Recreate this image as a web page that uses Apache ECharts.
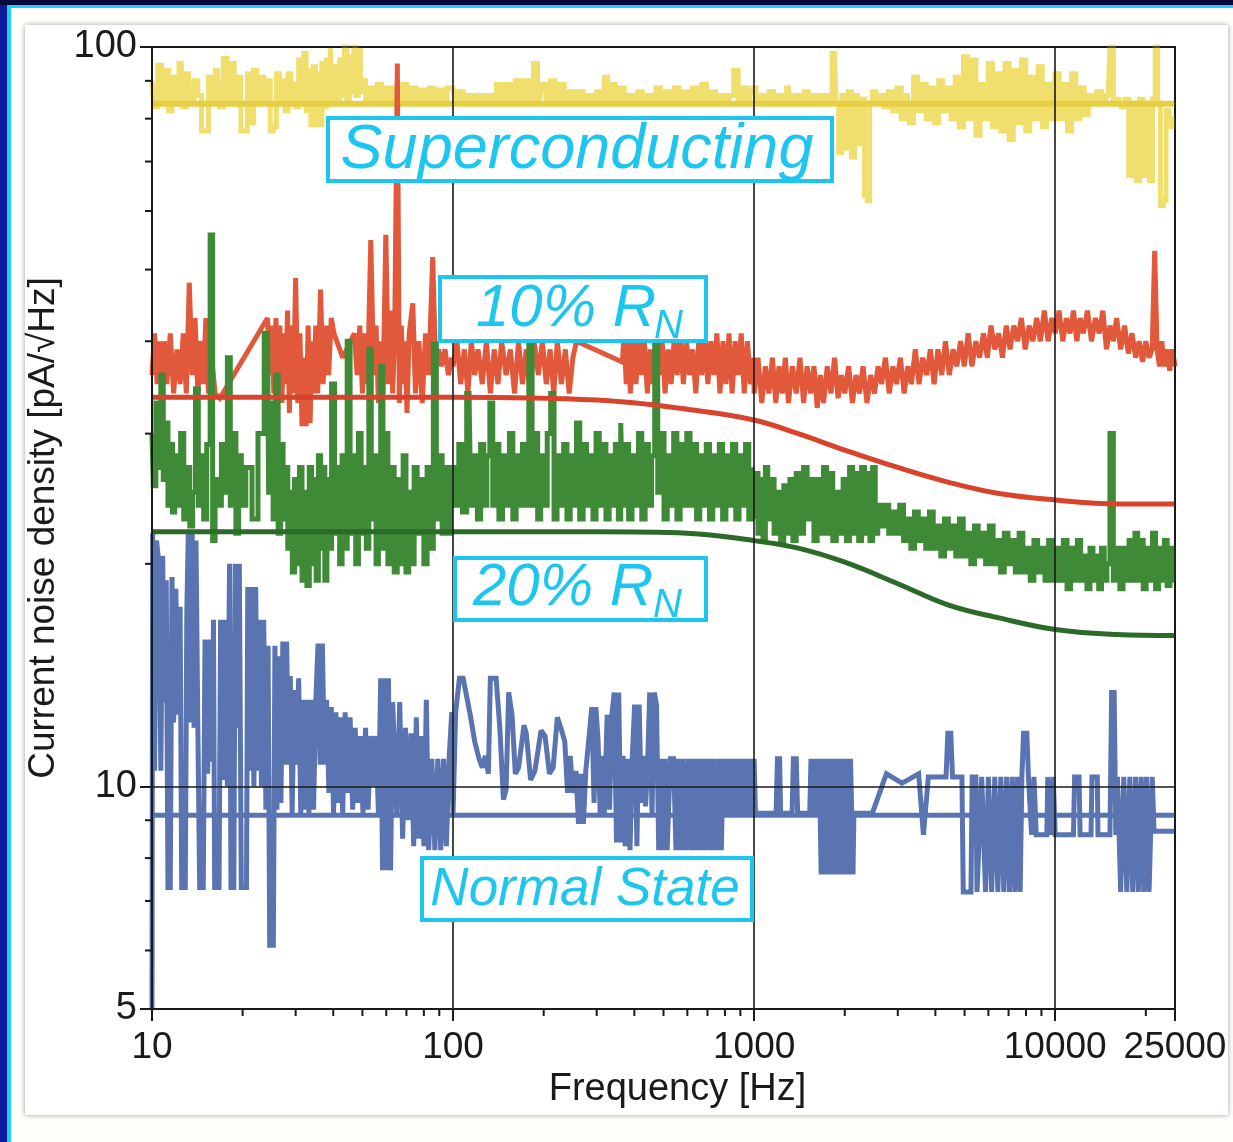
<!DOCTYPE html>
<html>
<head>
<meta charset="utf-8">
<title>Current noise density</title>
<script src="https://cdn.jsdelivr.net/npm/echarts@6/dist/echarts.min.js"></script>
<style>
  html, body { margin: 0; padding: 0; width: 1233px; height: 1142px; overflow: hidden; background: #0a1c9a; }
  #topband { position: absolute; left: 0; top: 0; width: 1233px; height: 5px; background: #03093c; }
  #frame { position: absolute; left: 7px; top: 5px; right: 0; bottom: 0; background: #fffefb;
           border-left: 4px solid #22cdf2; border-top: 3px solid #22cdf2; }
  #panel { position: absolute; left: 25px; top: 25px; width: 1203px; height: 1090px; background: #ffffff;
           box-shadow: 0 0 5px rgba(0,0,0,0.38); }
  #chart { position: absolute; left: 0; top: 0; width: 1233px; height: 1142px; }
</style>
</head>
<body>
<div id="topband"></div>
<div id="frame"></div>
<div id="panel"></div>
<div id="chart"></div>
<script>
// ---- axes ----
const X_MIN = 10, X_MAX = 25000;
const Y_MIN = 5, Y_MAX = 100;
const X_MINOR_TICKS = [20, 30, 40, 50, 60, 70, 80, 90,
  200, 300, 400, 500, 600, 700, 800, 900,
  2000, 3000, 4000, 5000, 6000, 7000, 8000, 9000, 20000];
const Y_MINOR_TICKS = [6, 7, 8, 9, 20, 30, 40, 50, 60, 70, 80, 90];

// ---- measured spectra [frequency Hz, pA/sqrt(Hz)] ----
const superNoise = [
  [10,90],[10.3,83],[10.6,94.5],[10.9,84],[11.2,93],[11.5,82],[11.8,91],[12.1,85],[12.5,95],[12.8,83],
  [13.2,92],[13.6,84],[14,90],[14.4,86],[14.8,77],[15.2,77],[15.6,91],[16,84],[16.5,93],[17,83],
  [17.5,96.5],[18,85],[18.5,95],[19,84],[19.5,91],[20,77],[20.5,77],[21,92],[21.5,79],[22,93],
  [22.6,85],[23.2,91],[23.8,84],[24.4,90],[25,77],[25.6,78],[26.2,92],[26.8,84],[27.4,90],[28,82],
  [28.6,92],[29.2,85],[29.8,89],[30.4,83],[31,96],[31.6,84],[32.2,98],[32.8,82],[33.4,93],[34,78.5],
  [34.6,94],[35.2,78.5],[35.8,92],[36.4,78.5],[37,95],[37.6,83],[38.2,96],[38.8,84],[39.4,99.7],[40,85],
  [40.8,94],[41.6,84],[42.4,96],[43.2,86],[44,100],[44.8,85],[45.6,97],[46.4,87],[47.2,100],[48,86],
  [48.8,99],[49.6,87],[50.5,90],[52,85],[53.5,88],[55,84],[57,89],[59,85],[61,88],[63,84],
  [65,88],[67,85],[69,89],[71.5,85],[74,88],[76.5,84],[79,87.5],[82,85],[85,88],[88,84],
  [91,87.5],[94,85],[97,88],
  [100,88],[103,84],[106,87],[110,84],[114,86],[118,84],[122,86],[127,84],[132,86],[137,84],
  [142,89],[147,84],[152,89],[158,85],[164,90],[170,84],[176,90],[182,85],[188,95],[194,85],
  [200,89],[207,84],[214,90],[222,85],[230,89],[238,84],[247,87],[256,84],[265,87],[275,84],
  [285,86],[295,84],[305,87],[315,84],[322,91],[330,85],[340,89],[352,84],[364,88],[377,84],
  [390,86],[404,84],[418,87],[433,84],[448,86],[464,84],[480,88],[497,84],[515,87],[533,84],
  [552,88],[572,84],[592,87],[613,84],[635,88],[658,84],[682,89],[706,84],[731,87],[757,84],
  [784,86],[812,84],[841,86],[870,93],[900,84],[932,88],[965,84],[982,87],
  [1000,88],[1030,84],[1060,86],[1100,84],[1140,87],[1180,84],[1220,86],[1260,84],[1300,88],[1340,85],
  [1390,86],[1440,84],[1490,87],[1540,85],[1600,86],[1660,84],[1720,86],[1780,84],[1850,98],[1890,84],
  [1930,72],[1980,86],[2030,73],[2080,87],[2130,71],[2180,86],[2240,74],[2300,85],[2350,63],[2400,62],
  [2440,84],[2500,87],[2580,84],[2660,86],[2750,83],[2840,87],[2930,82],[3030,88],[3130,80],[3230,86],
  [3330,79],[3440,91],[3550,82],[3670,89],[3790,80],[3910,88],[4040,79],[4170,90],[4300,82],[4440,88],
  [4580,80],[4730,91],[4880,78],[5040,97],[5200,80],[5370,96],[5540,76],[5720,89],[5900,80],[6090,95],
  [6290,78],[6490,92],[6700,77],[6920,95],[7140,75],[7370,93],[7610,79],[7860,96],[8110,77],[8370,91],
  [8640,80],[8920,94],[9210,78],[9510,89],[9820,80],[10140,92],[10470,80],[10810,89],[11160,77],[11520,92],
  [11890,80],[12280,88],[12680,81],[13090,86],[13510,84],[14000,87],[14500,84],[15000,86],[15400,100],[15800,84],
  [16300,85],[16800,83],[17300,85],[17800,67],[18300,84],[18800,66],[19300,85],[19800,67],[20300,84],[20800,66],
  [21300,85],[21700,100],[22100,84],[22600,61],[23100,62],[23600,82],[24200,78],[25000,80]
];

const rn10Noise = [
  [10,36],[10.2,41],[10.4,35],[10.6,40],[10.8,34],[11,40],[11.2,35],[11.5,41],[11.8,34],[12.1,39],
  [12.4,35],[12.7,41],[13,34],[13.3,48],[13.6,36],[13.9,43],[14.2,34],[14.5,40],[14.8,35],[15.1,43],
  [15.4,34],[15.8,38],[16.2,34],[16.8,33.5],[24.2,43],[24.6,36],[25,42],[25.4,34],[25.8,43],[26.2,35],
  [26.6,42],[27,33],[27.4,41],[27.8,35],[28.2,44],[28.6,32],[29,42],[29.5,34],[30,48.7],[30.5,33],
  [31,41],[31.5,30.7],[32,38],[32.5,30.7],[33,42],[33.5,31],[34,40],[34.5,34],[35,42],[35.5,34],
  [36.3,47],[37,35],[37.8,42],[38.6,36],[39.4,43],[40.2,41],[43,38],[47,41],[48,36],[49,42],
  [50,34],[51,41],[52,35],[53.3,54.8],[54.5,36],[55.5,42],[56.5,33],[57.5,40],[58.5,34],[59.8,55.7],
  [61,35],[62,44],[63,34],[64,41],[65.3,95],[66.3,33],[67.3,42],[68.3,35],[69.3,40],[70.3,32],
  [71.5,41],[73.5,45],[75,34],[77,40],[79,33],[81,41],[83,36],[85.6,52],[87.5,37],[89.5,39],
  [91.5,37],[94,39],[96.5,36],[99,38],
  [100,37],[103,40],[106,35],[109,39],[112,34],[115,40],[118,36],[121,39],[125,35],[129,40],
  [133,34],[137,39],[141,35],[145,40],[150,36],[155,39],[160,34],[165,40],[170,35],[175,39],
  [180,34],[186,40],[192,36],[198,40],[204,35],[210,39],[216,34],[222,40],[229,35],[236,39],
  [243,34],[250,38],[257,40],[365,37.5],[370,41],[376,35],[382,40],[388,34],[396,40],[405,35],
  [414,41],[423,36],[432,40],[442,34],[452,39],[462,35],[473,41],[484,36],[495,40],[506,34],
  [518,39],[530,35],[542,40],[555,36],[568,41],[582,35],[596,40],[610,36],[625,39],[640,34],
  [655,40],[670,36],[686,41],[702,35],[718,40],[735,36],[752,41],[770,34],[788,40],[806,35],
  [825,41],[845,34],[865,40],[885,36],[906,41],[927,34],[950,40],[972,35],[995,38],
  [1000,34],[1030,38],[1060,33],[1090,37],[1120,34],[1150,38],[1180,33],[1210,37],[1240,34],[1270,38],
  [1300,33],[1340,37],[1380,34],[1420,38],[1460,33],[1500,37],[1540,34],[1580,37],[1620,32.5],[1660,36],
  [1700,33],[1750,37],[1800,34],[1850,38],[1900,33.5],[1950,36],[2000,34],[2060,37],[2120,33],[2180,36],
  [2240,34],[2300,37],[2370,33],[2440,36],[2510,34],[2580,37],[2650,35],[2730,38],[2810,34],[2890,37],
  [2970,35],[3060,38],[3150,34],[3240,37],[3330,35],[3430,39],[3530,35],[3630,38],[3740,36],[3850,39],
  [3960,35],[4080,39],[4200,36],[4320,40],[4450,36],[4580,39],[4710,37],[4850,40],[4990,37],[5140,41],
  [5290,37],[5450,40],[5610,38],[5780,41],[5950,38],[6120,42],[6300,39],[6490,41],[6680,38],[6880,42],
  [7080,39],[7290,42],[7500,40],[7720,43],[7950,39],[8190,42],[8430,40],[8680,43],[8930,40],[9200,44],
  [9470,40],[9750,43],[10000,41],
  [10300,44],[10600,40],[10900,43],[11200,41],[11500,44],[11800,40],[12100,43],[12400,41],[12800,44],[13200,40],
  [13600,43],[14000,41],[14400,44],[14800,39],[15200,42],[15600,40],[16000,43],[16500,39],[17000,42],[17500,38.5],
  [18000,41],[18500,38],[19000,40],[19500,37.5],[20000,40],[20500,38],[21000,39],[21400,53],[21800,39],[22200,37],
  [22600,40],[23000,37],[23500,39],[24000,36.5],[24500,39],[25000,37]
];

const rn20Noise = [
  [10,30],[10.2,25.5],[10.4,33],[10.6,27],[10.8,36],[11,26],[11.2,31],[11.4,24],[11.6,29],[11.8,23.5],
  [12,28],[12.3,24],[12.6,30],[12.9,23],[13.2,27],[13.5,22.5],[13.8,25],[14.1,34.5],[14.4,24],[14.7,28],
  [15,23],[15.4,29],[15.8,55.7],[16,21.5],[16.4,26],[16.8,24],[17.2,29],[17.6,25],[18,38],[18.4,24],
  [18.8,30],[19.2,22],[19.6,28],[20,24],[21,27],[22,23],[23,30],[24.2,41],[24.6,25],[25,33],
  [25.5,23],[26,36],[26.5,22],[27,29],[27.5,23],[28,27],[28.5,21],[29,25],[29.5,19.5],[30,26],
  [30.6,20],[31.2,27],[31.8,19],[32.4,25],[33,18.7],[33.6,27],[34.2,20],[34.8,26],[35.4,19],[36,28],
  [36.6,21],[37.2,27],[37.8,19],[38.4,26],[39,21],[40,35],[40.8,22],[41.6,27],[42.4,20],[43.2,28],
  [44,21],[45,40],[46,22],[47,28],[48,20],[49,30],[50,22],[51,27],[52,21],[53,39],
  [54,23],[55,28],[56,20],[57,26],[58,37],[59,21],[60,30],[61.5,20],[63,27],[64.5,19.5],
  [66,26],[67.5,20],[69,28],[70.5,19.5],[72,25],[73.5,20],[75,27],[77,22],[79,26],[81,20],
  [83,27],[85,21],[87,39.7],[89,23],[91,28],[93,22],[95,27],[97,22],[99,26],
  [100,27],[103,24],[106,29],[109,23.5],[113,34],[116,24],[119,28],[122,23],[125,29],[128,24],
  [131,28],[134,33],[137,24],[140,29],[144,23],[148,28],[152,24],[156,30],[160,23],[164,28],
  [168,24],[172,29],[176,24],[181,40],[185,24],[189,30],[193,23],[198,28],[203,24],[208,30],
  [214,34],[219,23],[224,28],[230,24],[236,29],[242,23],[248,28],[254,24],[260,31],[267,23],
  [274,29],[281,24],[288,28],[295,23],[302,30],[310,24],[318,29],[326,23],[334,28],[342,24],
  [350,29],[358,23],[363,31],[369,24],[378,29],[388,23],[398,28],[408,24],[418,30],[429,23],
  [440,29],[451,24],[462,28],[473,40],[484,25],[496,30],[508,23],[521,28],[534,24],[547,30],
  [561,23],[575,29],[590,24],[605,30],[620,24],[636,29],[652,23],[668,28],[685,24],[702,29],
  [720,23],[738,28],[757,24],[776,29],[796,23],[816,28],[837,24],[858,29],[880,23],[902,28],
  [925,24],[948,29],[972,23],[996,27],
  [1000,23],[1020,26.5],[1040,22],[1060,26],[1080,21.5],[1100,27],[1120,23],[1150,26],[1180,22],[1210,25],
  [1240,21.5],[1270,25.5],[1300,22],[1330,26],[1360,21.5],[1400,26.5],[1440,22],[1480,27],[1520,23],[1560,26],
  [1600,21.5],[1640,26],[1680,22],[1720,27],[1760,22],[1800,26.5],[1850,21.5],[1900,25],[1950,22],[2000,26],
  [2050,21.5],[2100,27],[2150,22],[2200,26.5],[2250,21.5],[2300,27],[2350,22],[2400,26.5],[2450,21.5],[2500,27],
  [2550,22],[2600,24],[2680,22.5],[2760,24],[2840,22],[2920,23.5],[3000,22],[3090,24],[3180,21.5],[3270,23],
  [3360,21],[3460,23.5],[3560,21.5],[3660,23],[3770,21],[3880,23.5],[3990,21],[4110,22.5],[4230,20.5],[4350,23],
  [4480,21],[4610,22.5],[4740,20.5],[4880,23],[5020,20.5],[5170,22],[5320,20],[5470,22.5],[5630,20.5],[5790,22],
  [5960,20],[6130,22.5],[6310,20],[6490,21.5],[6680,19.5],[6870,22],[7070,20],[7270,21.5],[7480,19.5],[7700,22],
  [7920,19.5],[8150,21],[8380,19],[8620,21.5],[8870,19.5],[9120,21],[9380,19],[9650,21.5],[9930,19],
  [10200,21],[10500,19],[10800,21.5],[11100,18.5],[11400,21],[11700,19],[12000,21.5],[12300,19],[12600,20.5],[12900,18.5],
  [13200,21],[13500,19],[13800,20.5],[14100,18.5],[14400,21],[14700,19],[15000,20],[15400,30],[15800,19],[16200,21],
  [16600,18.5],[17000,21],[17400,19],[17800,21.5],[18200,19],[18600,22],[19000,19],[19400,21.5],[19800,18.5],[20300,21],
  [20800,19],[21300,22],[21800,18.5],[22300,21],[22800,19],[23300,21.5],[23800,18.7],[24300,21],[25000,19]
];

const normalNoise = [
  [10,5],[10.05,22],[10.2,10.5],[10.35,21.5],[10.55,20],[10.7,10.5],[10.85,20.5],[11,13],[11.15,19],
  [11.3,7.3],[11.5,7.3],[11.65,19.2],[11.8,12.2],[12,18.5],[12.2,12.5],[12.4,17.5],
  [12.55,7.3],[12.9,7.3],[13.05,17.2],[13.2,22],[13.4,12.2],[13.6,22],[13.8,12],[14,21.5],[14.2,12],
  [14.4,7.3],[14.8,7.3],[15,15.8],[15.3,10.4],[15.6,15.8],[15.9,10.8],[16,16.8],
  [16.15,7.3],[16.7,7.3],[16.9,16.8],[17.2,10.2],[17.5,16.8],[17.8,10],[18.1,20],
  [18.3,7.3],[18.7,7.3],[18.9,20],[19.2,12],[19.5,20],
  [19.8,7.3],[20.6,7.3],[20.8,18.6],[21.1,10.5],[21.4,18.6],[21.8,10],[22.1,18.6],[22.4,10.5],
  [22.8,16.8],[23.1,10],[23.5,16.8],[23.9,9.3],[24.3,15.5],[24.6,6.1],[25.3,6.1],[25.6,15.5],[26,9.3],
  [26.4,15],[26.8,9.5],[27.2,15.7],[27.6,10.7],[28,15.7],[28.4,10.7],
  [28.8,14.1],[29.2,9.2],[29.7,13.5],[30.2,10.7],[30.7,14],[31.2,9.2],[31.7,13.1],[32.2,9.3],[32.7,13.1],
  [33.2,9.2],[33.8,13.1],[34.4,9.3],[35,13],[35.6,15.6],[36.2,10.7],[36.8,15.6],[37.4,10.7],
  [38,13.1],[38.7,9.8],[39.4,12.8],[40.1,9.2],[40.8,12.6],[41.5,9.5],[42.2,12.4],[43,9.2],[43.8,12.6],[44.6,9.8],
  [45.5,12.4],[46.4,9.3],[47.3,12],[48.2,9.5],[49.2,11.7],[50.2,9.2],[51.2,12],[52.2,9.3],[53.3,11.7],[54.4,10],
  [55.5,11.7],[56.5,9.2],[57.5,14],[58.3,7.7],[59.3,14],[60.2,7.7],[61,14],[62,7.7],[63,13],
  [65,9.2],[66.5,13],[68,8.5],[69.5,12],[71,9],[72.5,11.8],[74,8.3],[75.5,12.4],[77,8.5],[78.5,11.7],[80,8.3],
  [81.5,13.1],[83,8.2],[85,10.9],[87,8.2],[89,10.9],[91,8.2],[93,10.9],[95,8.3],[97,10.9],[99,12.6],
  [100,9.2],[102,12.6],[105,14],[108,14],[114,12.5],[118,11.5],[122,10.9],[125,10.6],[128,11],[131,10.4],
  [133,14],[139,14],[143,12],[147,9.6],[150,9.9],[153,13.4],[157,12.5],[161,10.4],[165,10.6],[172,12.1],
  [175,11.8],[181,10.2],[187,10.5],[196,11.9],[202,11.7],[209,10.4],[215,10.6],[222,12.4],[228,12],[235,11.5],
  [240,9.8],[245,11],[250,9.8],[256,10.5],[261,8.9],[266,10.4],[271,8.9],[276,10.5],[289,12.8],[294,9.5],
  [298,12.8],[303,11.6],[308,9.2],[313,11],[318,9.2],[325,12.5],[331,9.3],[337,12.5],[343,13.4],[349,8.4],
  [355,13.4],[361,8.4],[367,11],[373,8.3],[380,10.9],[387,8.2],[394,11],[401,12.9],[408,8.3],[415,12.9],
  [422,9.5],[429,11],[436,9.4],[443,10.8],[450,13.4],[458,9.2],[466,13.4],[474,12.9],[482,8.2],[490,10.9],
  [498,8.2],[506,10.9],[514,8.2],[527,10.9],[540,10.9],[550,8.2],[560,10.9],[570,8.2],[580,10.9],[592,8.2],
  [604,10.9],[616,8.2],[628,10.9],[640,8.2],[652,10.9],[665,8.2],[678,10.9],[691,8.2],[705,10.9],[719,8.2],
  [733,10.9],[748,8.2],[763,10.9],[778,8.2],[790,10.9],[805,9.2],[820,10.9],[835,9.2],[850,10.9],[865,9.2],
  [880,10.9],[895,9.2],[910,10.9],[925,9.2],[940,10.9],[955,9.2],[970,10.9],[985,9.2],
  [1000,10.9],[1010,9.2],[1183,9.2],[1195,10.9],[1215,10.9],[1225,9.2],[1337,9.2],[1350,10.9],[1380,10.9],[1395,9.2],
  [1530,9.2],[1545,10.9],[1570,9.2],[1595,10.9],[1620,9.2],[1645,10.9],[1670,7.6],[1700,10.9],[1730,7.6],[1760,10.9],
  [1790,7.6],[1820,10.9],[1850,7.6],[1880,10.9],[1910,7.6],[1945,10.9],[1980,7.6],[2015,10.9],[2050,7.6],[2090,10.9],
  [2130,7.6],[2145,9.2],[2470,9.2],[2750,10.4],[3100,10.1],[3520,10.4],[3650,8.6],[3790,10.3],[4340,10.3],[4400,11.8],
  [4500,11.8],[4560,10.3],[4900,10.3],[4950,7.2],[5250,7.2],[5300,10.3],[5450,10.3],[5500,7.2],[5700,10.3],[5870,7.2],
  [6000,10.3],[6150,7.2],[6300,10.3],[6450,7.2],[6600,10.3],[6750,7.2],[6900,10.3],[7050,7.2],[7200,10.3],[7350,7.2],
  [7500,10.3],[7650,7.2],[7750,10.3],[7850,11.8],[8050,11.8],[8150,10.3],[8350,8.6],[8500,10.3],[8650,8.6],[9380,8.6],
  [9450,10.3],[9650,8.6],[9850,10.3],[10000,8.6],[11500,8.6],[11600,10.3],[12000,10.3],[12100,8.6],[13150,8.6],[13250,10.3],
  [13800,10.3],[13870,8.6],[15200,8.6],[15400,13.4],[15700,13.4],[15900,8.6],[16100,10.3],[16500,7.2],[16900,10.3],[17300,7.2],
  [17700,10.3],[18100,7.2],[18500,10.3],[18900,7.2],[19300,10.3],[19700,7.2],[20100,10.3],[20500,7.2],[21000,10.3],[21300,8.7],
  [25000,8.7]
];

// ---- model curves ----
const superModel = [[10,83.8],[25000,83.8]];
const rn10Model = [[10,33.6],[100,33.6],[300,33.3],[660,32.2],[1000,31.3],[1400,30.0],[2000,28.5],
  [3000,27.0],[4400,25.8],[6500,24.9],[10000,24.4],[16000,24.1],[25000,24.1]];
const rn20Model = [[10,22.1],[300,22.1],[600,22.0],[1000,21.5],[1400,21.0],[2000,20.1],[3000,18.8],
  [4400,17.6],[6500,16.9],[10000,16.3],[16000,16.05],[25000,16.0]];
const normalModel = [[10,9.14],[25000,9.14]];

const CYAN = '#1cc6ef';
const INK = '#1a1a1a';
const FONT = '"Liberation Sans", Arial, Helvetica, sans-serif';

function lineSeries(name, data, color, width, z, opts) {
  opts = opts || {};
  return {
    name: name, type: 'line', data: data, z: z,
    showSymbol: false, symbol: 'none',
    smooth: opts.smooth || false, step: opts.step || false,
    lineStyle: { color: color, width: width, join: 'miter', miterLimit: 2 },
    emphasis: { disabled: true }, silent: true
  };
}

function minorTickRenderer(axis) {
  return function (params, api) {
    const p = api.coord([api.value(0), api.value(1)]);
    const len = 7;
    const shape = axis === 'x'
      ? { x1: p[0], y1: p[1], x2: p[0], y2: p[1] + len }
      : { x1: p[0] - len, y1: p[1], x2: p[0], y2: p[1] };
    return { type: 'line', shape: shape, style: { stroke: INK, lineWidth: 2 } };
  };
}

function labelBox(x, y, w, h) {
  return { type: 'rect', z: 100, shape: { x: x, y: y, width: w, height: h },
           style: { fill: '#ffffff', stroke: CYAN, lineWidth: 4 } };
}
function labelText(text, x, y, size, align) {
  return { type: 'text', z: 101, x: x, y: y,
           style: { text: text, fill: CYAN, font: 'italic ' + size + 'px ' + FONT,
                    align: align, verticalAlign: 'middle', textAlign: align, textVerticalAlign: 'middle' } };
}

const chart = echarts.init(document.getElementById('chart'), null, { renderer: 'canvas' });
chart.setOption({
  animation: false,
  backgroundColor: 'transparent',
  textStyle: { fontFamily: FONT },
  grid: { left: 152, right: 58, top: 47, bottom: 133, show: true, borderColor: INK, borderWidth: 2,
          backgroundColor: 'transparent', containLabel: false, outerBoundsMode: 'none' },
  xAxis: {
    type: 'log', logBase: 10, min: X_MIN, max: X_MAX, z: 15,
    name: 'Frequency [Hz]', nameLocation: 'middle', nameGap: 62,
    nameTextStyle: { fontSize: 38, color: INK, fontFamily: FONT, padding: [0, 0, 0, 28] },
    axisLine: { show: true, lineStyle: { color: INK, width: 2 } },
    axisTick: { show: true, inside: false, length: 12, lineStyle: { color: INK, width: 2 } },
    minorTick: { show: false },
    axisLabel: { show: true, margin: 20, fontSize: 37, color: INK, fontFamily: FONT,
                 showMinLabel: true, showMaxLabel: true, hideOverlap: false,
                 formatter: function (v) { return String(Math.round(v)); } },
    splitLine: { show: true, lineStyle: { color: INK, width: 1.6 } }
  },
  yAxis: {
    type: 'log', logBase: 10, min: Y_MIN, max: Y_MAX, z: 15,
    name: 'Current noise density [pA/\u221AHz]', nameLocation: 'middle', nameGap: 90, nameRotate: 90,
    nameTextStyle: { fontSize: 37, color: INK, fontFamily: FONT },
    axisLine: { show: true, lineStyle: { color: INK, width: 2 } },
    axisTick: { show: true, inside: false, length: 12, lineStyle: { color: INK, width: 2 } },
    minorTick: { show: false },
    axisLabel: { show: true, margin: 15, fontSize: 38, color: INK, fontFamily: FONT,
                 showMinLabel: true, showMaxLabel: true, hideOverlap: false,
                 formatter: function (v) { return String(Math.round(v)); } },
    splitLine: { show: true, lineStyle: { color: INK, width: 1.6 } }
  },
  series: [
    lineSeries('Superconducting', superNoise, '#f1df6d', 5, 2, { step: 'middle' }),
    lineSeries('Superconducting model', superModel, '#e6cf45', 6, 3),
    lineSeries('10% RN', rn10Noise, '#e2583a', 5, 4),
    lineSeries('20% RN', rn20Noise, '#3f8a37', 5, 5, { step: 'middle' }),
    lineSeries('10% RN model', rn10Model, '#d9422b', 5, 6, { smooth: 0.4 }),
    lineSeries('Normal State', normalNoise, '#5a74b2', 5, 7),
    lineSeries('20% RN model', rn20Model, '#2b6a28', 5, 8, { smooth: 0.4 }),
    lineSeries('Normal State model', normalModel, '#5a74b2', 5, 9),
    { type: 'custom', name: 'x minor ticks', z: 16, clip: false, silent: true,
      data: X_MINOR_TICKS.map(function (f) { return [f, Y_MIN]; }),
      renderItem: minorTickRenderer('x') },
    { type: 'custom', name: 'y minor ticks', z: 16, clip: false, silent: true,
      data: Y_MINOR_TICKS.map(function (v) { return [X_MIN, v]; }),
      renderItem: minorTickRenderer('y') }
  ],
  graphic: [
    labelBox(328, 118, 504, 63),
    labelText('Superconducting', 577, 150, 63, 'center'),
    labelBox(440, 277, 266, 64),
    labelText('10% R', 476, 309, 60, 'left'),
    labelText('N', 654, 327, 40, 'left'),
    labelBox(455, 558, 251, 62),
    labelText('20% R', 473, 588, 60, 'left'),
    labelText('N', 653, 606, 40, 'left'),
    labelBox(422, 858, 330, 62),
    labelText('Normal State', 585, 890, 53, 'center')
  ]
});
</script>
</body>
</html>
